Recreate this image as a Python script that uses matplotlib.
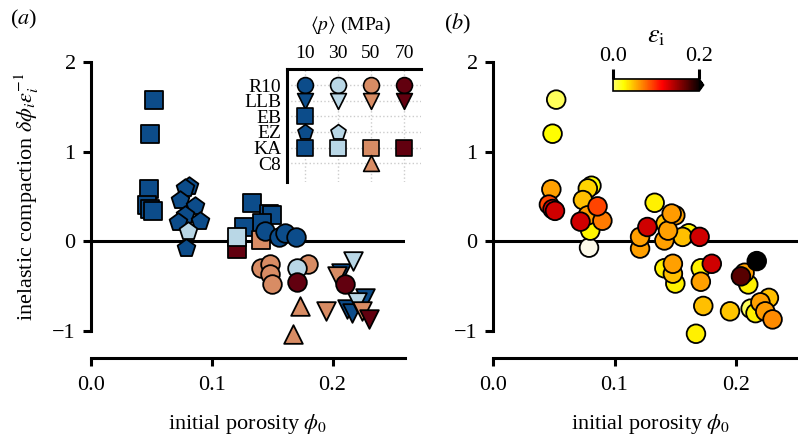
import numpy as np
import matplotlib.pyplot as plt
import matplotlib.colors as mcolors

plt.rcParams['font.family'] = ['Liberation Serif', 'DejaVu Serif']
plt.rcParams['mathtext.fontset'] = 'stix'

# legend grid
materials = ["R10", "LLB", "EB", "EZ", "KA", "C8"]
pressures = [10, 30, 50, 70]
markers = {"R10": "o", "LLB": "v", "EB": "s", "EZ": "p", "KA": "s", "C8": "^"}
p_colors = {10: "#0c4c8a", 30: "#b9d7e6", 50: "#d88c64", 70: "#62000f"}

# one entry per sample: material, mean pressure (MPa), initial porosity,
# inelastic compaction and inelastic strain
sample_mat = (["EB"] * 6 + ["KA"] * 5 + ["KA", "KA", "KA"] + ["EZ"] * 8 + ["EZ"]
              + ["LLB"] * 4 + ["LLB"] * 2 + ["LLB"] * 3 + ["LLB"]
              + ["C8"] * 2 + ["R10"] * 4 + ["R10"] * 5 + ["R10"] + ["R10"] * 2)
sample_p = ([10] * 6 + [10] * 5 + [70, 30, 50] + [10] * 8 + [30]
            + [10] * 4 + [30] * 2 + [50] * 3 + [70]
            + [50] * 2 + [10] * 4 + [50] * 5 + [30] + [70] * 2)
phi0 = [0.052, 0.049, 0.048, 0.046, 0.049, 0.051,
        0.133, 0.147, 0.150, 0.142, 0.127,
        0.121, 0.121, 0.141,
        0.081, 0.078, 0.074, 0.086, 0.078, 0.072, 0.090, 0.079, 0.080,
        0.207, 0.227, 0.212, 0.216,
        0.217, 0.220,
        0.195, 0.204, 0.224,
        0.230,
        0.173, 0.167,
        0.144, 0.156, 0.161, 0.170,
        0.141, 0.148, 0.148, 0.150, 0.180,
        0.171,
        0.171, 0.210]
compaction = [1.58, 1.20, 0.58, 0.41, 0.36, 0.34,
              0.43, 0.31, 0.29, 0.20, 0.16,
              -0.08, 0.05, 0.01,
              0.62, 0.59, 0.46, 0.39, 0.29, 0.22, 0.23, -0.07, 0.12,
              -0.35, -0.63, -0.75, -0.80,
              -0.22, -0.68,
              -0.78, -0.39, -0.78,
              -0.87,
              -0.72, -1.03,
              0.12, 0.05, 0.09, 0.05,
              -0.30, -0.25, -0.36, -0.47, -0.25,
              -0.30,
              -0.45, -0.48]
strain = [0.004, 0.025, 0.058, 0.090, 0.125, 0.130,
          0.030, 0.060, 0.058, 0.047, 0.130,
          0.058, 0.058, 0.058,
          0.025, 0.040, 0.047, 0.090, 0.060, 0.130, 0.071, -0.010, 0.028,
          0.058, 0.047, 0.004, 0.030,
          0.220, 0.058,
          0.045, 0.172, 0.060,
          0.065,
          0.047, 0.030,
          0.058, 0.047, 0.030, 0.130,
          0.030, 0.058, 0.047, 0.030, 0.130,
          0.030,
          0.058, 0.030]

sample_mat = np.array(sample_mat)
sample_p = np.array(sample_p)
phi0 = np.array(phi0)
compaction = np.array(compaction)
strain = np.array(strain)

# drawing order of the groups in (a)
draw_order = [("EB", 10), ("KA", 10), ("KA", 70), ("KA", 30), ("KA", 50),
              ("EZ", 10), ("EZ", 30), ("LLB", 10), ("LLB", 30), ("LLB", 50),
              ("LLB", 70), ("C8", 50), ("R10", 10), ("R10", 50), ("R10", 30),
              ("R10", 70)]

# colormap for (b)
hot = plt.get_cmap('hot_r')
cmap = mcolors.ListedColormap(hot(np.linspace(0.15, 1.0, 256)))
cmap.set_under('#fdfaea')
cmap.set_over('black')
norm = mcolors.Normalize(vmin=0.0, vmax=0.2)

fig = plt.figure(figsize=(7.98, 4.40), dpi=100)
ax_a = fig.add_axes([0.114, 0.1864, 0.3935, 0.734])
ax_b = fig.add_axes([0.6178, 0.1864, 0.396, 0.734])

lw_sp = 2.2
fs = 16
for ax in (ax_a, ax_b):
    ax.set_xlim(0, 0.26)
    ax.set_ylim(-1.3, 2.3)
    ax.axhline(0, color='black', lw=lw_sp, zorder=1)
    for s in ('top', 'right'):
        ax.spines[s].set_visible(False)
    ax.spines['left'].set_bounds(-1, 2)
    ax.spines['left'].set_linewidth(lw_sp)
    ax.spines['bottom'].set_linewidth(lw_sp)
    ax.set_xticks([0.0, 0.1, 0.2])
    ax.set_xticklabels(["0.0", "0.1", "0.2"])
    ax.set_yticks([-1, 0, 1, 2])
    ax.set_yticklabels(["\u22121", "0", "1", "2"])
    ax.tick_params(direction='out', length=6, width=lw_sp, labelsize=fs, pad=5)
    ax.tick_params(axis='x', pad=7)
    ax.set_xlabel(r"initial porosity $\phi_0$", fontsize=fs, labelpad=12)

ax_a.set_ylabel(r"inelastic compaction $\delta\phi_i\varepsilon_i^{-1}$", fontsize=fs, labelpad=8)

for mat, p in draw_order:
    sel = (sample_mat == mat) & (sample_p == p)
    ax_a.scatter(phi0[sel], compaction[sel], s=180, marker=markers[mat],
                 facecolor=p_colors[p], edgecolor='black', linewidth=1.3, zorder=3)

order = np.argsort(strain, kind='stable')
ax_b.scatter(phi0[order], compaction[order], s=180, marker='o', c=strain[order],
             cmap=cmap, norm=norm, edgecolor='black', linewidth=1.3, zorder=3)

fig.text(0.012, 0.955, "($a$)", fontsize=fs, ha='left', va='center')
fig.text(0.556, 0.945, "($b$)", fontsize=fs, ha='left', va='center')

# legend inset in (a)
ax_in = fig.add_axes([0.3596, 0.5864, 0.168, 0.2568])
ax_in.set_xlim(-0.545, 3.515)
ax_in.set_ylim(6.2, -1.03)
for s in ('bottom', 'right'):
    ax_in.spines[s].set_visible(False)
for s in ('top', 'left'):
    ax_in.spines[s].set_linewidth(lw_sp)
ax_in.set_xticks(range(len(pressures)))
ax_in.set_xticklabels([str(p) for p in pressures])
ax_in.set_yticks(range(len(materials)))
ax_in.set_yticklabels(materials)
ax_in.xaxis.tick_top()
ax_in.tick_params(length=0, labelsize=14, pad=4)
ax_in.tick_params(axis='x', pad=5)
ax_in.grid(True, ls=':', color='0.8', lw=1)
ax_in.set_axisbelow(True)
for i, mat in enumerate(materials):
    for j, p in enumerate(pressures):
        if np.any((sample_mat == mat) & (sample_p == p)):
            ax_in.scatter(j, i, s=130, marker=markers[mat], facecolor=p_colors[p],
                          edgecolor='black', linewidth=1.2, zorder=3, clip_on=False)
fig.text(0.439, 0.943, r"$\langle p\rangle$ (MPa)", fontsize=14, ha='center', va='center')

# colorbar in (b)
cax = fig.add_axes([0.7682, 0.7932, 0.1134, 0.0273])
cb = fig.colorbar(plt.cm.ScalarMappable(norm=norm, cmap=cmap), cax=cax,
                  orientation='horizontal', extend='max', extendfrac=0.05)
cb.set_ticks([0.0, 0.2])
cb.set_ticklabels(["0.0", "0.2"])
cax.xaxis.set_ticks_position('top')
cax.xaxis.set_label_position('top')
cax.tick_params(length=7, width=lw_sp, labelsize=fs, pad=2)
cb.outline.set_linewidth(1.2)
cb.set_label(r"$\varepsilon_\mathrm{i}$", fontsize=fs + 3, labelpad=4)

fig.savefig("out.png", dpi=100)
